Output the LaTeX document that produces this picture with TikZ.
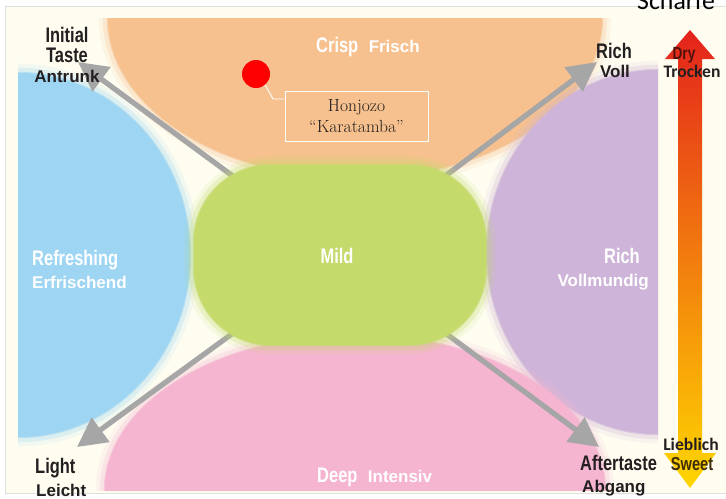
\documentclass[tikz,border=0pt]{standalone}
\usepackage{fontspec}
\usepackage{xcolor}
\usepackage{tikz}
\usetikzlibrary{positioning,shapes,arrows.meta}
\newfontfamily\condfont[FakeStretch=0.78]{Liberation Sans}
\newfontfamily\subfont{Liberation Sans}
\newfontfamily\calfont{Carlito}
\definecolor{cream}{RGB}{254,253,240}
\definecolor{crisporange}{RGB}{246,193,142}
\definecolor{refreshblue}{RGB}{158,213,243}
\definecolor{richlilac}{RGB}{205,180,216}
\definecolor{deeppink}{RGB}{245,180,208}
\definecolor{mildgreen}{RGB}{196,218,107}
\definecolor{arrowgrey}{RGB}{166,166,166}
\definecolor{labeldark}{RGB}{35,31,32}
\definecolor{dryred}{RGB}{80,18,12}
\definecolor{sweetbrown}{RGB}{60,45,5}
\definecolor{scaletop}{RGB}{228,35,28}
\definecolor{scalemid}{RGB}{240,135,10}
\definecolor{scalebot}{RGB}{255,214,0}

\begin{document}
\begin{tikzpicture}[x=0.03cm, y=-0.03cm,
  blob/.style={fill=#1, draw=#1, line width=2pt, draw opacity=0.6,
    preaction={draw=#1, line width=16pt, draw opacity=0.12},
    preaction={draw=#1, line width=9pt, draw opacity=0.25}},
  head/.style={font=\condfont\bfseries\fontsize{18}{19}\selectfont, text=labeldark, inner sep=0pt},
  sub/.style={font=\subfont\bfseries\fontsize{14.5}{16}\selectfont, text=labeldark, inner sep=0pt},
  scalelabel/.style={font=\calfont\bfseries\fontsize{15}{16}\selectfont, text=labeldark, inner sep=0pt},
  pointer/.style={draw=arrowgrey, line width=4.5pt, -{Triangle[length=25pt, width=25pt]}}]
\useasboundingbox (0,0) rectangle (726,498);
\clip (0,0) rectangle (726,498);

% Background
\fill[white] (0,0) rectangle (726,498);
\draw[gray!25, fill=cream] (5,6) rectangle (740,493);
\node[font=\calfont\fontsize{22}{24}\selectfont, anchor=base west, inner sep=0pt] (schaerfe) at (637,9) {Schärfe};

% Taste regions
\begin{scope}
\clip (18,18) rectangle (658,490);
\path[blob=crisporange] (355,18) ellipse [x radius=7.41cm, y radius=4.8cm];
\path[blob=refreshblue] (18,255) ellipse [x radius=5.16cm, y radius=5.46cm];
\path[blob=richlilac] (658,252) ellipse [x radius=5.13cm, y radius=5.46cm];
\path[blob=deeppink] (355,490) ellipse [x radius=7.5cm, y radius=4.65cm];
\end{scope}

% Arrows from the middle
\coordinate (mid) at (340,255);
\coordinate (tipnw) at (78,62);
\coordinate (tipne) at (597,62);
\coordinate (tipsw) at (77,447);
\coordinate (tipse) at (599,447);
\draw[pointer] (mid) -- (tipnw);
\draw[pointer] (mid) -- (tipne);
\draw[pointer] (mid) -- (tipsw);
\draw[pointer] (mid) -- (tipse);

% Mild
\node[blob=mildgreen, rounded corners=2.3cm, minimum width=8.76cm, minimum height=5.4cm] (mildbox) at (340,255) {};
\node[head, text=white, anchor=base] (mild) at (337,263) {Mild};

% Region labels
\node[head, text=white, anchor=base west] (crisp) at (316,52) {Crisp};
\node[sub, text=white, right=0.3cm of crisp.base east, anchor=base west] (frisch) {Frisch};
\node[head, text=white, anchor=base west] (deep) at (317,482) {Deep};
\node[sub, text=white, right=0.3cm of deep.base east, anchor=base west] (intensiv) {Intensiv};
\node[head, text=white, anchor=base west] (refreshing) at (32,265) {Refreshing};
\node[sub, text=white, anchor=base west] (erfrischend) at (32,288) {Erfrischend};
\node[head, text=white, anchor=base east] (richside) at (640,263) {Rich};
\node[sub, text=white, anchor=base east] (vollmundig) at (649,286) {Vollmundig};

% Corner labels
\node[head, anchor=base] (initial) at (67,42) {Initial};
\node[head, anchor=base] (taste) at (67,62) {Taste};
\node[sub, anchor=base] (antrunk) at (67,82) {Antrunk};
\node[head, anchor=base] (richtop) at (614,58) {Rich};
\node[sub, anchor=base] (voll) at (615,77) {Voll};
\node[head, anchor=base west] (light) at (35,473) {Light};
\node[sub, anchor=base west] (leicht) at (36,496) {Leicht};
\node[head, anchor=base west] (aftertaste) at (580,470) {Aftertaste};
\node[sub, anchor=base west] (abgang) at (582,492) {Abgang};

% Dry / sweet scale
\shade[top color=scaletop, middle color=scalemid, bottom color=scalebot]
  (690,30) -- (715,59) -- (702,59) -- (702,453) -- (716,453) -- (690,488)
  -- (664,453) -- (678,453) -- (678,59) -- (665,59) -- cycle;
\node[head, font=\condfont\bfseries\fontsize{15}{16}\selectfont, text=dryred, anchor=base] (dry) at (684,59) {Dry};
\node[scalelabel, anchor=base] (trocken) at (692,77) {Trocken};
\node[scalelabel, anchor=base] (lieblich) at (691,450) {Lieblich};
\node[head, font=\condfont\bfseries\fontsize{16}{17}\selectfont, text=sweetbrown, anchor=base] (sweet) at (692,470) {Sweet};

% Sample
\node[circle, fill=red, inner sep=0pt, minimum size=0.84cm] (dot) at (256,74) {};
\node[draw=white, line width=0.8pt, minimum width=4.29cm, minimum height=1.5cm, align=center,
  font=\fontsize{15}{18.5}\selectfont, text=labeldark] (honjozo) at (356.5,116) {Honjozo\\“Karatamba”};
\coordinate (bend) at (273,99);
\draw[white, line width=0.8pt] (dot.-50) -- (bend) -- (honjozo.west |- bend);
\end{tikzpicture}
\end{document}
